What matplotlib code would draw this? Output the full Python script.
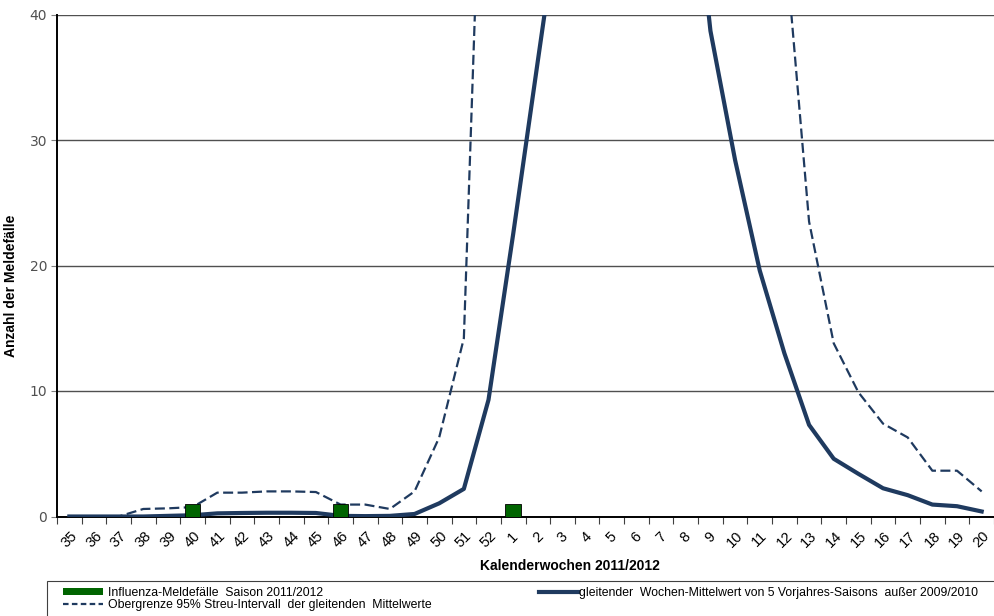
import numpy as np
import matplotlib
matplotlib.use("Agg")
from matplotlib import pyplot as plt
from matplotlib.patches import Patch, Rectangle
from matplotlib.lines import Line2D
from matplotlib.transforms import ScaledTranslation

plt.rcParams['font.family'] = ['Liberation Sans', 'DejaVu Sans']

# Kalenderwochen 35..52, 1..20
weeks = [str(w) for w in range(35, 53)] + [str(w) for w in range(1, 21)]

# Influenza-Meldefaelle Saison 2011/2012
cases = [0, 0, 0, 0, 0, 1, 0, 0, 0, 0, 0, 1, 0, 0, 0, 0, 0, 0,
         1, 0, 0, 0, 0, 0, 0, 0, 0, 0, 0, 0, 0, 0, 0, 0, 0, 0, 0, 0]

# gleitender Mittelwert (values above 40 are off the chart, estimated)
mean5 = [0, 0, 0, 0, 0.05, 0.1, 0.25, 0.28, 0.3, 0.3, 0.28, 0.05, 0.03, 0.05, 0.2, 1.05, 2.2, 9.3,
         22.5, 36.3, 50, 62, 70, 68, 63, 57, 38.7, 28.4, 19.6, 13.0, 7.3, 4.6, 3.4, 2.25, 1.7, 0.95, 0.82, 0.4]

# Obergrenze 95% Streu-Intervall (values above 40 estimated)
upper = [0, 0, 0, 0.6, 0.65, 0.75, 1.9, 1.9, 2.0, 2.0, 1.95, 0.95, 0.95, 0.6, 2.0, 6.3, 14.2, 72,
         95, 110, 120, 125, 125, 120, 110, 100, 85, 70, 58, 46.5, 23.5, 13.8, 9.9, 7.4, 6.3, 3.65, 3.65, 2.0]

navy = '#1f3a5f'
green = '#006400'

fig = plt.figure(figsize=(9.94, 6.16), dpi=100)
ax = fig.add_axes([57 / 994, (616 - 516.5) / 616, (994 - 57) / 994, 502 / 616])

x = np.arange(len(weeks))
ax.plot(x, mean5, color=navy, lw=3.0, solid_joinstyle='round', zorder=3)
ax.plot(x, upper, color=navy, lw=1.6, linestyle=(0, (4.5, 2.0)), zorder=3)
xb = [i for i, v in enumerate(cases) if v > 0]
ax.bar(xb, [cases[i] for i in xb], width=0.63, color=green, edgecolor='black', lw=0.6, zorder=4)

ax.set_ylim(0, 40)
ax.set_xlim(-0.5, len(weeks) - 0.5 - 0.28)
ax.set_yticks([0, 10, 20, 30, 40])
ax.yaxis.grid(True, color='#505050', lw=1.0)
ax.set_axisbelow(True)
ax.tick_params(axis='y', length=4, width=0.8, color='#808080', labelsize=10, labelcolor='#505050', pad=3)
for t in ax.get_yticklabels():
    t.set_fontfamily('DejaVu Sans')

ax.set_xticks(x)
ax.set_xticklabels(weeks, rotation=45, ha='center', va='top', fontsize=10.5)
shift = ScaledTranslation(-4 / 100, 0, fig.dpi_scale_trans)
for t in ax.get_xticklabels():
    t.set_transform(t.get_transform() + shift)
ax.set_xticks(np.arange(-0.5, len(weeks)), minor=True)
ax.tick_params(axis='x', which='major', length=0, pad=9)
ax.tick_params(axis='x', which='minor', length=5, width=0.8, color='#404040')

for side in ['top', 'right']:
    ax.spines[side].set_visible(False)
ax.spines['left'].set_color('black')
ax.spines['left'].set_linewidth(1.4)
ax.spines['bottom'].set_color('black')
ax.spines['bottom'].set_linewidth(1.4)

ax.set_ylabel('Anzahl der Meldefälle', fontsize=10, fontweight='bold')
ax.yaxis.set_label_coords(-39 / 937, 0.46)
ax.set_xlabel('Kalenderwochen 2011/2012', fontsize=10, fontweight='bold')
ax.xaxis.set_label_coords((570 - 57) / 937, -43 / 502)

# legend frame (runs off the right and bottom edge like the original)
fig.patches.append(Rectangle((46.5 / 994, -0.05), 1.0, (616 - 581) / 616 + 0.05,
                             transform=fig.transFigure, facecolor='white',
                             edgecolor='#404040', lw=0.8))

h1 = [Patch(facecolor=green, edgecolor='none'),
      Line2D([], [], color=navy, lw=1.6, linestyle=(0, (2.5, 1.5)))]
l1 = ['Influenza-Meldefälle  Saison 2011/2012',
      'Obergrenze 95% Streu-Intervall  der gleitenden  Mittelwerte']
h2 = [Line2D([], [], color=navy, lw=3.0)]
l2 = ['gleitender  Wochen-Mittelwert von 5 Vorjahres-Saisons  außer 2009/2010']

leg1 = fig.legend(h1, l1, loc='upper left', bbox_to_anchor=(63 / 994, (616 - 587) / 616),
                  fontsize=8.8, frameon=False, handlelength=3.3, handleheight=0.55,
                  handletextpad=0.4, labelspacing=0.0, borderpad=0, borderaxespad=0)
leg2 = fig.legend(h2, l2, loc='upper left', bbox_to_anchor=(539 / 994, (616 - 587) / 616),
                  fontsize=8.8, frameon=False, handlelength=3.15,
                  handletextpad=0.15, borderpad=0, borderaxespad=0)

fig.savefig('out.png', dpi=100)
